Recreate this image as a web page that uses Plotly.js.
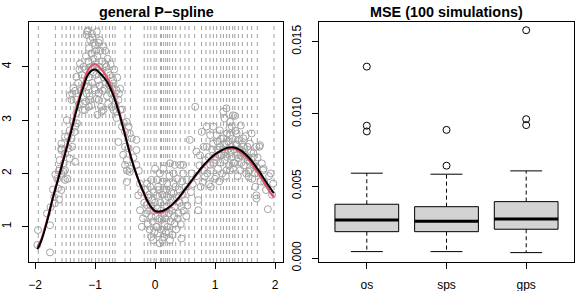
<!DOCTYPE html>
<html><head><meta charset="utf-8">
<script src="https://cdn.plot.ly/plotly-3.0.1.min.js"></script>
<style>html,body{margin:0;padding:0;background:#fff}#plot{width:581px;height:291px}</style>
</head><body><div id="plot"></div>
<script>
// ---- left panel: simulated data points ----
const ptX = [
-1.96,-1.95,-1.75,-1.75,-1.8,-1.74,-1.67,-1.6,-1.68,-1.7,-1.63,-1.6,-1.66,-1.62,-1.56,-1.5,-1.46,-1.52,-1.59,-1.52,-1.59,-1.5,-1.56,-1.56,-1.5,-1.56,-1.45,-1.56,-1.5,-1.47,-1.42,-1.44,-1.38,-1.33,-1.39,-1.33,-1.42,-1.34,-1.37,-1.3,-1.31,-1.39,-1.42,-1.38,-1.33,-1.36,-1.31,-1.31,-1.25,-1.2,-1.2,-1.28,-1.26,-1.22,-1.24,-1.27,
-1.18,-1.17,-1.16,-1.15,-1.14,-1.13,-1.12,-1.12,-1.11,-1.1,-1.1,-1.09,-1.08,-1.08,-1.07,-1.06,-1.06,-1.05,-1.04,-1.03,-1.02,-1.01,-1.0,-1.0,-0.99,-0.98,-0.97,-0.97,-0.96,-0.95,-0.94,-0.94,-0.94,-0.93,-0.92,-0.92,-0.91,-0.9,-0.89,-0.88,-0.87,-0.86,-0.86,-0.85,-0.84,-0.83,-0.83,-0.82,-0.81,-0.8,-0.79,-0.78,-0.78,-0.76,-0.75,-0.74,-0.73,-0.72,-0.71,-0.7,-0.69,-0.69,-0.68,-0.67,-0.66,-0.64,-0.64,-0.64,-0.63,-0.61,-0.61,-0.6,-0.58,-0.58,-0.55,-1.14,-1.05,-1.02,-0.98,-1.19,-1.15,-1.1,-0.9,-0.96,
-0.55,-0.52,-0.5,-0.47,-0.44,-0.42,-0.39,-0.31,-0.31,-0.47,-0.5,-0.42,-0.31,-0.44,-0.5,-0.47,-0.47,-0.42,-0.53,-0.36,-0.25,-0.28,-0.25,-0.22,-0.2,-0.27,-0.23,
-0.18,-0.16,-0.15,-0.14,-0.13,-0.12,-0.11,-0.1,-0.1,-0.09,-0.08,-0.07,-0.06,-0.06,-0.06,-0.05,-0.04,-0.03,-0.03,-0.02,-0.01,0.0,0.0,0.01,0.02,0.03,0.03,0.03,0.04,0.05,0.05,0.06,0.07,0.08,0.08,0.09,0.1,0.1,0.11,0.12,0.12,0.13,0.14,0.14,0.15,0.15,0.16,0.17,0.17,0.18,0.19,0.2,0.2,0.21,0.22,0.23,0.23,0.24,0.25,0.25,0.25,0.26,0.27,0.28,0.29,0.3,0.31,0.31,0.31,0.32,0.33,0.33,0.33,0.34,0.35,0.36,0.37,0.38,0.39,0.4,0.41,0.42,0.43,0.44,0.44,0.45,0.46,0.47,0.47,0.48,0.5,0.51,0.52,0.53,0.54,
0.58,0.61,0.6,0.63,0.67,0.69,0.7,0.72,0.72,0.74,0.75,0.76,0.78,0.8,0.8,0.81,0.83,0.84,0.86,0.86,0.87,0.89,0.9,
0.92,0.92,0.93,0.93,0.95,0.97,0.97,0.98,1.0,1.0,1.02,1.02,1.03,1.04,1.05,1.05,1.06,1.07,1.08,1.08,1.09,1.1,1.11,1.12,1.13,1.14,1.14,1.15,1.16,1.16,1.17,1.18,1.19,1.19,1.19,1.2,1.2,1.21,1.22,1.23,1.24,1.25,1.25,1.25,1.26,1.27,1.28,1.28,1.29,1.3,1.3,1.31,1.32,1.33,1.33,1.34,1.35,1.36,1.36,1.37,1.38,1.39,1.4,1.41,1.42,1.42,1.43,1.44,1.45,1.46,1.47,1.47,1.48,1.5,1.51,1.52,1.53,1.54,1.55,1.56,1.56,1.58,1.58,1.58,1.6,1.61,1.62,1.63,
1.64,1.64,1.66,1.67,1.69,1.69,1.69,1.69,1.71,1.72,1.74,1.75,1.76,1.78,1.8,1.81,1.82,1.85,1.88,1.9,1.93,1.95,1.97
];
const ptY = [
0.66,0.94,0.52,1.03,1.25,1.37,1.44,1.51,1.56,1.7,1.9,2.05,1.98,1.72,1.69,1.88,1.9,2.03,2.25,2.19,2.09,2.06,2.0,2.44,2.38,2.56,2.69,2.47,2.69,3.0,2.28,2.47,2.5,2.22,2.66,2.88,2.81,2.78,2.97,2.94,3.13,3.38,3.47,3.5,3.55,3.6,3.38,3.81,4.06,3.31,3.19,3.7,3.95,3.85,3.55,3.3,
3.65,3.19,3.95,4.2,3.5,4.66,4.68,3.63,4.1,3.8,4.35,3.45,4.5,3.38,4.0,3.28,4.25,3.7,4.55,3.9,4.15,3.6,3.56,4.4,4.05,3.85,4.66,3.4,4.2,3.75,3.5,3.38,4.45,4.0,4.5,3.65,4.3,3.9,3.16,4.1,3.55,4.38,3.19,3.8,3.59,4.3,4.05,3.7,4.0,3.45,4.15,3.31,3.9,3.65,3.84,4.05,3.5,3.25,3.6,3.75,3.69,3.19,3.95,3.44,3.3,3.56,3.04,3.16,3.8,3.38,2.59,3.5,3.19,3.59,2.88,4.6,4.62,4.45,4.3,4.0,3.35,3.25,3.25,3.1,
3.2,2.95,2.78,2.97,2.88,2.75,2.66,2.63,2.44,2.25,2.16,2.09,2.16,2.47,2.5,1.84,2.06,2.03,2.35,2.3,1.81,1.59,1.31,1.0,1.16,2.05,1.65,
1.45,1.7,1.25,1.41,1.81,1.05,1.55,1.6,1.3,0.95,1.75,1.4,1.19,0.81,1.88,1.5,1.1,0.75,1.3,1.65,0.9,2.09,1.45,1.2,1.0,1.0,1.59,1.88,1.35,0.88,1.75,1.69,1.15,0.69,2.0,1.45,1.3,0.95,1.13,0.75,1.6,1.85,1.69,2.09,0.81,1.25,1.05,1.16,1.5,0.9,1.7,1.38,1.81,1.0,1.56,0.9,1.25,1.95,0.75,2.19,1.45,1.1,1.65,1.3,0.85,1.5,2.0,1.81,1.63,1.2,1.38,1.06,2.16,1.75,0.95,1.55,1.9,1.15,1.25,1.7,1.45,2.16,1.05,1.38,0.78,1.85,1.6,2.0,2.16,1.3,1.5,1.75,1.2,1.88,1.4,
2.63,2.0,1.65,1.8,3.25,2.41,1.95,1.5,1.31,2.15,2.34,1.75,2.78,1.84,2.06,2.5,1.94,2.25,2.88,2.5,2.0,2.31,1.8,
2.72,2.16,2.06,1.75,2.45,2.88,2.56,2.2,2.31,1.9,1.94,2.25,2.72,2.6,2.44,2.09,2.35,1.85,2.81,2.5,2.2,2.65,2.34,2.0,2.45,3.16,2.66,2.55,3.03,2.25,2.4,1.95,3.22,2.56,2.06,2.31,2.75,2.45,2.6,2.15,2.85,2.97,2.72,2.06,2.4,2.5,2.88,2.31,2.65,3.09,2.09,2.2,2.45,2.19,3.08,2.8,2.55,2.75,2.53,2.35,1.95,2.28,2.62,2.45,2.06,2.34,2.9,2.2,2.55,2.4,2.66,2.5,2.15,2.35,2.7,2.0,2.31,2.5,2.25,1.94,2.03,2.22,2.56,2.06,2.4,2.75,1.9,2.3,
2.38,2.16,2.0,1.75,2.5,2.12,1.59,1.53,2.3,2.0,2.5,2.53,1.85,2.19,2.06,2.09,1.84,1.69,1.33,1.95,2.0,1.6,1.81
];
// knot positions (dashed vertical lines)
const knots = [-1.945,-1.66,-1.55,-1.48,-1.41,-1.35,-1.27,-1.22,-1.155,-1.1,-1.055,-0.99,-0.935,-0.88,-0.82,-0.76,-0.705,-0.665,-0.5,-0.41,-0.18,-0.12,-0.07,-0.015,0.02,0.09,0.11,0.145,0.18,0.21,0.245,0.29,0.345,0.42,0.5,0.565,0.66,0.775,0.85,0.917,0.972,1.028,1.095,1.14,1.195,1.24,1.295,1.33,1.39,1.455,1.538,1.61,1.705,1.983];
// true curve (black) and fitted curve (red)
const curveX = [-1.96,-1.9,-1.8,-1.7,-1.6,-1.5,-1.4,-1.3,-1.2,-1.1,-1.0,-0.9,-0.8,-0.7,-0.6,-0.5,-0.4,-0.3,-0.2,-0.1,0.0,0.1,0.2,0.3,0.4,0.5,0.6,0.7,0.8,0.9,1.0,1.1,1.2,1.3,1.4,1.5,1.6,1.7,1.8,1.9,1.98];
const trueY  = [0.58,0.72,1.1,1.55,1.95,2.36,2.78,3.22,3.6,3.88,3.95,3.86,3.72,3.48,3.14,2.72,2.3,1.95,1.67,1.43,1.3,1.29,1.34,1.43,1.55,1.7,1.85,2.0,2.14,2.26,2.36,2.43,2.48,2.49,2.45,2.37,2.25,2.1,1.93,1.76,1.63];
const fitY   = [0.62,0.75,1.12,1.56,1.97,2.39,2.82,3.27,3.67,3.97,4.05,3.96,3.8,3.53,3.17,2.74,2.31,1.95,1.66,1.42,1.28,1.27,1.33,1.42,1.54,1.69,1.84,1.99,2.13,2.25,2.35,2.42,2.46,2.47,2.42,2.33,2.2,2.04,1.86,1.68,1.55];

// ---- right panel: MSE boxplots ----
const methods = ['os','sps','gps'];
const lowW  = [0.00046,0.00046,0.00039];
const q1    = [0.00184,0.00184,0.00201];
const med   = [0.00265,0.00256,0.00272];
const q3    = [0.00374,0.00357,0.00392];
const highW = [0.00589,0.00582,0.00605];
const outMethod = [1,1,1,2,2,3,3,3];
const outVal    = [0.01327,0.00918,0.00878,0.00889,0.00641,0.01579,0.00963,0.00922];

const pos = methods.map((m,i)=>i+1);
const boxW = 0.8, stapleW = 0.4;

const traces = [];
traces.push({type:'scatter',mode:'markers',x:ptX,y:ptY,xaxis:'x',yaxis:'y',
  marker:{symbol:'circle-open',size:7,color:'#a3a3a3',line:{width:1,color:'#a3a3a3'}},hoverinfo:'skip'});
traces.push({type:'scatter',mode:'lines',x:curveX,y:fitY,xaxis:'x',yaxis:'y',
  line:{color:'#DF536B',width:2.2,shape:'spline'},hoverinfo:'skip'});
traces.push({type:'scatter',mode:'lines',x:curveX,y:trueY,xaxis:'x',yaxis:'y',
  line:{color:'#000000',width:2,shape:'spline'},hoverinfo:'skip'});

// whiskers (dashed)
const wx=[], wy=[];
pos.forEach((p,i)=>{wx.push(p,p,null,p,p,null); wy.push(q3[i],highW[i],null,q1[i],lowW[i],null);});
traces.push({type:'scatter',mode:'lines',x:wx,y:wy,xaxis:'x2',yaxis:'y2',line:{color:'#000',width:1,dash:'4px,3px'},hoverinfo:'skip'});
// staples
const sx=[], sy=[];
pos.forEach((p,i)=>{sx.push(p-stapleW/2,p+stapleW/2,null,p-stapleW/2,p+stapleW/2,null); sy.push(highW[i],highW[i],null,lowW[i],lowW[i],null);});
traces.push({type:'scatter',mode:'lines',x:sx,y:sy,xaxis:'x2',yaxis:'y2',line:{color:'#000',width:1},hoverinfo:'skip'});
// boxes
traces.push({type:'box',x:pos,q1:q1,median:med,q3:q3,lowerfence:q1,upperfence:q3,
  width:boxW,whiskerwidth:0,boxpoints:false,fillcolor:'#D3D3D3',line:{color:'#000',width:1},
  xaxis:'x2',yaxis:'y2',hoverinfo:'skip'});
// thick medians
const mx=[], my=[];
pos.forEach((p,i)=>{mx.push(p-boxW/2,p+boxW/2,null); my.push(med[i],med[i],null);});
traces.push({type:'scatter',mode:'lines',x:mx,y:my,xaxis:'x2',yaxis:'y2',line:{color:'#000',width:3},hoverinfo:'skip'});
// outliers
traces.push({type:'scatter',mode:'markers',x:outMethod,y:outVal,xaxis:'x2',yaxis:'y2',
  marker:{symbol:'circle-open',size:7,color:'#000',line:{width:1,color:'#000'}},hoverinfo:'skip'});

const shapes = knots.map(k=>({type:'line',xref:'x',yref:'y domain',x0:k,x1:k,y0:0,y1:1,
  line:{color:'#a0a0a0',width:1,dash:'4px,4px'},layer:'below'}));

const font = {family:'"Liberation Sans", Arial, Helvetica, sans-serif',size:12,color:'#000'};
const axBase = {showgrid:false,zeroline:false,showline:true,mirror:true,linecolor:'#000',linewidth:1,
  ticks:'outside',ticklen:6,tickcolor:'#000',tickwidth:1,tickfont:font,fixedrange:true};
const H=291, W=581;
const layout = {
  width:W,height:H,margin:{l:0,r:0,t:0,b:0},paper_bgcolor:'#fff',plot_bgcolor:'#fff',showlegend:false,font:font,
  xaxis:Object.assign({},axBase,{domain:[29/W,283/W],range:[-2.1,2.133],tickvals:[-2,-1,0,1,2],ticklabelstandoff:6,anchor:'y'}),
  yaxis:Object.assign({},axBase,{domain:[1-262/H,1-22/H],range:[0.34,4.84],tickvals:[1,2,3,4],tickangle:-90,ticklabelstandoff:6,anchor:'x'}),
  xaxis2:Object.assign({},axBase,{domain:[319/W,574/W],range:[0.4,3.6],tickvals:pos,ticktext:methods,ticklabelstandoff:6,anchor:'y2'}),
  yaxis2:Object.assign({},axBase,{domain:[1-262/H,1-22/H],range:[-0.00026,0.01636],tickvals:[0,0.005,0.01,0.015],tickformat:'.3f',tickangle:-90,ticklabelstandoff:6,anchor:'x2'}),
  shapes:shapes,
  annotations:[
    {text:'<b>general P\u2212spline</b>',xref:'paper',yref:'paper',x:156/W,y:1-12/H,xanchor:'center',yanchor:'middle',showarrow:false,font:{family:font.family,size:14.4,color:'#000'}},
    {text:'<b>MSE (100 simulations)</b>',xref:'paper',yref:'paper',x:446.5/W,y:1-12/H,xanchor:'center',yanchor:'middle',showarrow:false,font:{family:font.family,size:14.4,color:'#000'}}
  ]
};
Plotly.newPlot('plot',traces,layout,{displayModeBar:false,staticPlot:true});
</script>
</body></html>
